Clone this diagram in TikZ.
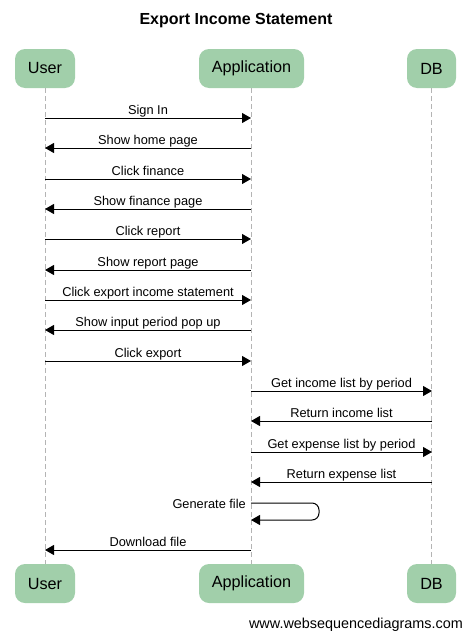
\documentclass[tikz,border=0pt]{standalone}
\usepackage{fontspec}
\setmainfont{Liberation Sans}
\usetikzlibrary{arrows.meta}
\definecolor{actorgreen}{RGB}{161,207,170}
\definecolor{lifegrey}{RGB}{180,180,180}
\begin{document}
\begin{tikzpicture}[x=1pt,y=-1pt,
  actor/.style={fill=actorgreen, draw=none, rounded corners=10pt, minimum height=39pt, inner sep=0pt, font=\fontsize{16.2}{18}\selectfont},
  lifeline/.style={draw=lifegrey, line width=0.8pt, dash pattern=on 5pt off 3pt},
  msg/.style={draw=black, line width=1pt, -{Triangle[length=9pt,width=10pt]}},
  lbl/.style={font=\fontsize{12.8}{14}\selectfont, inner sep=0pt, anchor=base, yshift=3.5pt},
  ]
\useasboundingbox (0,0) rectangle (471,637);
\node[font=\bfseries\fontsize{16}{18}\selectfont] (title) at (236,21) {Export Income Statement};
% actors
\node[actor, minimum width=60pt]  (ut) at (45,68.5) {User};
\node[actor, minimum width=105pt] (at) at (251.5,68.5) {Application};
\node[actor, minimum width=49pt]  (dt) at (431.5,68.5) {DB};
\node[actor, minimum width=60pt]  (ub) at (45,583.5) {User};
\node[actor, minimum width=105pt] (ab) at (251.5,583.5) {Application};
\node[actor, minimum width=49pt]  (db) at (431.5,583.5) {DB};
% lifelines
\draw[lifeline] (ut.south) -- (ub.north);
\draw[lifeline] (at.south) -- (ab.north);
\draw[lifeline] (dt.south) -- (db.north);
% message coordinates
\foreach \n/\y in {1/118,2/148,3/179,4/209,5/239,6/270,7/300,8/330,9/361,10/391,11/421,12/452,13/482,14/503,15/520,16/550}{
  \coordinate (u\n) at (45,\y);
  \coordinate (a\n) at (251,\y);
  \coordinate (d\n) at (432,\y);
}
\draw[msg] (u1) -- node[lbl]{Sign In} (a1);
\draw[msg] (a2) -- node[lbl]{Show home page} (u2);
\draw[msg] (u3) -- node[lbl]{Click finance} (a3);
\draw[msg] (a4) -- node[lbl]{Show finance page} (u4);
\draw[msg] (u5) -- node[lbl]{Click report} (a5);
\draw[msg] (a6) -- node[lbl]{Show report page} (u6);
\draw[msg] (u7) -- node[lbl]{Click export income statement} (a7);
\draw[msg] (a8) -- node[lbl]{Show input period pop up} (u8);
\draw[msg] (u9) -- node[lbl]{Click export} (a9);
\draw[msg] (a10) -- node[lbl]{Get income list by period} (d10);
\draw[msg] (d11) -- node[lbl]{Return income list} (a11);
\draw[msg] (a12) -- node[lbl]{Get expense list by period} (d12);
\draw[msg] (d13) -- node[lbl]{Return expense list} (a13);
\coordinate (s1) at (319,503);
\coordinate (s2) at (319,520);
\draw[msg, rounded corners=7pt] (a14) -- (s1) -- (s2) -- (a15);
\node[lbl, anchor=base east] (gen) at (246,512) {Generate file};
\draw[msg] (a16) -- node[lbl]{Download file} (u16);
\node[font=\fontsize{14.4}{16}\selectfont, anchor=base east, inner sep=0pt] (foot) at (463,628) {www.websequencediagrams.com};
\end{tikzpicture}
\end{document}
